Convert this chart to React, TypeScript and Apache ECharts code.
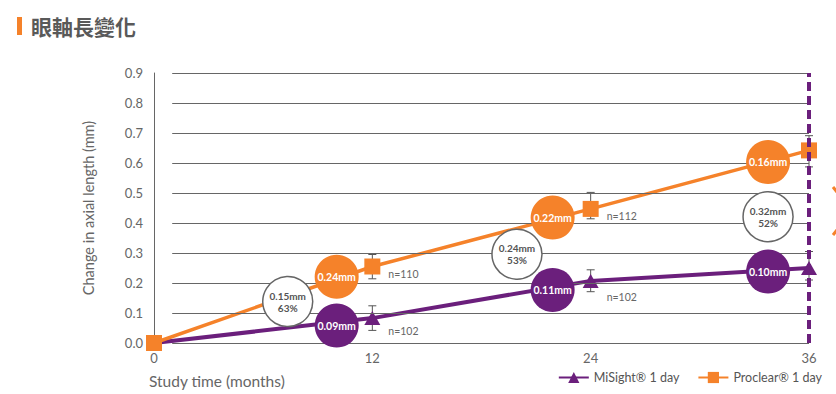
import React, { useEffect, useRef } from "react";
import * as echarts from "echarts";

const ORANGE = "#F5822A";
const PURPLE = "#6B1F7C";
const GRAY = "#666666";

const months = [0, 12, 24, 36];
const yTicks = [0, 0.1, 0.2, 0.3, 0.4, 0.5, 0.6, 0.7, 0.8, 0.9];

const misightMean = [0, 0.083, 0.207, 0.25];
const misightLow = [0, 0.042, 0.171, 0.21];
const misightHigh = [0, 0.124, 0.244, 0.305];
const misightN = [null, 102, 102, null];

const proclearMean = [0, 0.255, 0.447, 0.642];
const proclearLow = [0, 0.214, 0.414, 0.587];
const proclearHigh = [0, 0.295, 0.502, 0.691];
const proclearN = [null, 110, 112, null];

// Difference bubbles (annotation positions in data units)
const proclearBubbleX = [10.04, 21.91, 33.75];
const proclearBubbleY = [0.221, 0.418, 0.603];
const proclearBubbleText = ["0.24mm", "0.22mm", "0.16mm"];

const misightBubbleX = [10.04, 21.91, 33.75];
const misightBubbleY = [0.058, 0.177, 0.238];
const misightBubbleText = ["0.09mm", "0.11mm", "0.10mm"];

const diffBubbleX = [7.35, 19.95, 33.75];
const diffBubbleY = [0.138, 0.296, 0.421];
const diffBubbleMm = ["0.15mm", "0.24mm", "0.32mm"];
const diffBubblePct = ["63%", "53%", "52%"];

const FONT = "Lato, 'Noto Sans', sans-serif";

export default function App() {
  const ref = useRef<HTMLDivElement>(null);
  useEffect(() => {
    if (!ref.current) return;
    const chart = echarts.init(ref.current, null, { renderer: "svg" });

    const errData = (low: number[], high: number[]) =>
      months.map((m, i) => [m, low[i], high[i]]).filter((d, i) => i > 0);

    const errSeries = (name: string, low: number[], high: number[]) => ({
      type: "custom",
      name,
      z: 1,
      silent: true,
      data: errData(low, high),
      renderItem: (params: any, api: any) => {
        const x = api.value(0);
        const lo = api.coord([x, api.value(1)]);
        const hi = api.coord([x, api.value(2)]);
        const w = 4;
        const style = { stroke: "#555", lineWidth: 1 };
        return {
          type: "group",
          children: [
            { type: "line", shape: { x1: lo[0], y1: lo[1], x2: hi[0], y2: hi[1] }, style },
            { type: "line", shape: { x1: lo[0] - w, y1: lo[1], x2: lo[0] + w, y2: lo[1] }, style },
            { type: "line", shape: { x1: hi[0] - w, y1: hi[1], x2: hi[0] + w, y2: hi[1] }, style },
          ],
        };
      },
    });

    const nLabelData = (mean: number[], ns: (number | null)[], dys: number[]) =>
      months.map((m, i) => {
        const item: any = { value: [m, mean[i]] };
        if (ns[i] != null) {
          item.label = {
            show: true,
            position: "right",
            distance: 5,
            offset: [3, dys[i]],
            formatter: "n=" + ns[i],
            color: GRAY,
            fontSize: 10.5,
            fontFamily: FONT,
          };
        }
        return item;
      });

    const bubble = (
      name: string,
      xs: number[],
      ys: number[],
      texts: string[],
      color: string
    ) => ({
      type: "scatter",
      name,
      z: 5,
      silent: true,
      symbol: "circle",
      symbolSize: 44,
      itemStyle: { color, opacity: 1 },
      data: xs.map((x, i) => ({ value: [x, ys[i]], name: texts[i] })),
      label: {
        show: true,
        position: "inside",
        formatter: (p: any) => p.name,
        color: "#fff",
        fontWeight: "bold",
        fontSize: 10.5,
        fontFamily: FONT,
      },
    });

    const option: any = {
      animation: false,
      backgroundColor: "#fff",
      grid: { left: 154, right: 27, top: 73, bottom: 51, containLabel: false },
      xAxis: {
        type: "value",
        min: 0,
        max: 36,
        interval: 12,
        axisLine: { show: false },
        axisTick: { show: false },
        splitLine: { show: false },
        axisLabel: { color: GRAY, fontSize: 13, margin: 8, fontFamily: FONT },
      },
      yAxis: {
        type: "value",
        min: 0,
        max: 0.9,
        interval: 0.1,
        name: "Change in axial length (mm)",
        nameLocation: "middle",
        nameRotate: 90,
        nameGap: 58,
        nameTextStyle: { color: GRAY, fontSize: 14.5, fontFamily: FONT },
        axisLine: { show: true, lineStyle: { color: GRAY, width: 1 } },
        axisTick: { show: false },
        splitLine: { show: false },
        axisLabel: {
          color: GRAY,
          fontSize: 13,
          margin: 11,
          fontFamily: FONT,
          formatter: (v: number) => v.toFixed(1),
        },
      },
      legend: {
        data: ["MiSight® 1 day", "Proclear® 1 day"],
        right: 14,
        top: 371,
        padding: 0,
        itemWidth: 30,
        itemHeight: 14,
        itemGap: 18,
        textStyle: { color: "#555", fontSize: 12.5, fontFamily: FONT },
      },
      graphic: [
        { type: "rect", shape: { x: 17, y: 17, width: 5, height: 18 }, style: { fill: ORANGE } },
        {
          type: "text",
          x: 31,
          y: 26,
          style: {
            text: "眼軸長變化",
            fill: "#595959",
            font: "bold 21px 'Noto Sans CJK TC', sans-serif",
            verticalAlign: "middle",
          },
        },
        {
          type: "text",
          x: 149,
          y: 381,
          style: {
            text: "Study time (months)",
            fill: GRAY,
            font: "15.5px " + FONT,
            verticalAlign: "middle",
          },
        },
        {
          type: "polyline",
          shape: { points: [[833, 187], [852, 211], [833, 235]] },
          style: { stroke: ORANGE, lineWidth: 3, fill: "none" },
        },
      ],
      series: [
        {
          type: "line",
          name: "grid",
          data: [],
          silent: true,
          markLine: {
            silent: true,
            symbol: ["none", "none"],
            label: { show: false },
            lineStyle: { color: GRAY, width: 1.2, type: "solid" },
            data: [
              ...yTicks.map((v) => [{ coord: [1, v] }, { coord: [36, v] }]),
              [{ coord: [12, 0.917] }, { coord: [12, 0.883] }],
              [{ coord: [24, 0.917] }, { coord: [24, 0.883] }],
            ],
          },
        },
        errSeries("misightErr", misightLow, misightHigh),
        errSeries("proclearErr", proclearLow, proclearHigh),
        {
          type: "line",
          name: "MiSight® 1 day",
          z: 3,
          color: PURPLE,
          symbol: "triangle",
          symbolSize: [16, 14],
          itemStyle: { color: PURPLE },
          lineStyle: { color: PURPLE, width: 4 },
          data: nLabelData(misightMean, misightN, [0, 13, 16, 0]),
          markLine: {
            silent: true,
            symbol: ["none", "none"],
            label: { show: false },
            lineStyle: { color: PURPLE, width: 4, type: [9, 5] },
            data: [{ xAxis: 36 }],
          },
        },
        {
          type: "line",
          name: "Proclear® 1 day",
          z: 4,
          color: ORANGE,
          symbol: "rect",
          symbolSize: 16,
          itemStyle: { color: ORANGE },
          lineStyle: { color: ORANGE, width: 3.5 },
          data: nLabelData(proclearMean, proclearN, [0, 7.6, 6.7, 0]),
        },
        bubble("proclearBubble", proclearBubbleX, proclearBubbleY, proclearBubbleText, ORANGE),
        bubble("misightBubble", misightBubbleX, misightBubbleY, misightBubbleText, PURPLE),
        {
          type: "scatter",
          name: "diffBubble",
          z: 5,
          silent: true,
          symbol: "circle",
          symbolSize: 50,
          itemStyle: { color: "#fff", borderColor: GRAY, borderWidth: 1.5, opacity: 1 },
          data: diffBubbleX.map((x, i) => ({
            value: [x, diffBubbleY[i]],
            name: diffBubbleMm[i] + "\n" + diffBubblePct[i],
          })),
          label: {
            show: true,
            position: "inside",
            formatter: (p: any) => p.name,
            color: "#555",
            fontWeight: "bold",
            fontSize: 10,
            lineHeight: 12,
            fontFamily: FONT,
          },
        },
      ],
    };
    chart.setOption(option);
    return () => chart.dispose();
  }, []);
  return (
    <div
      ref={ref}
      style={{ position: "fixed", left: 0, top: 0, width: 836, height: 394, background: "#fff" }}
    />
  );
}
